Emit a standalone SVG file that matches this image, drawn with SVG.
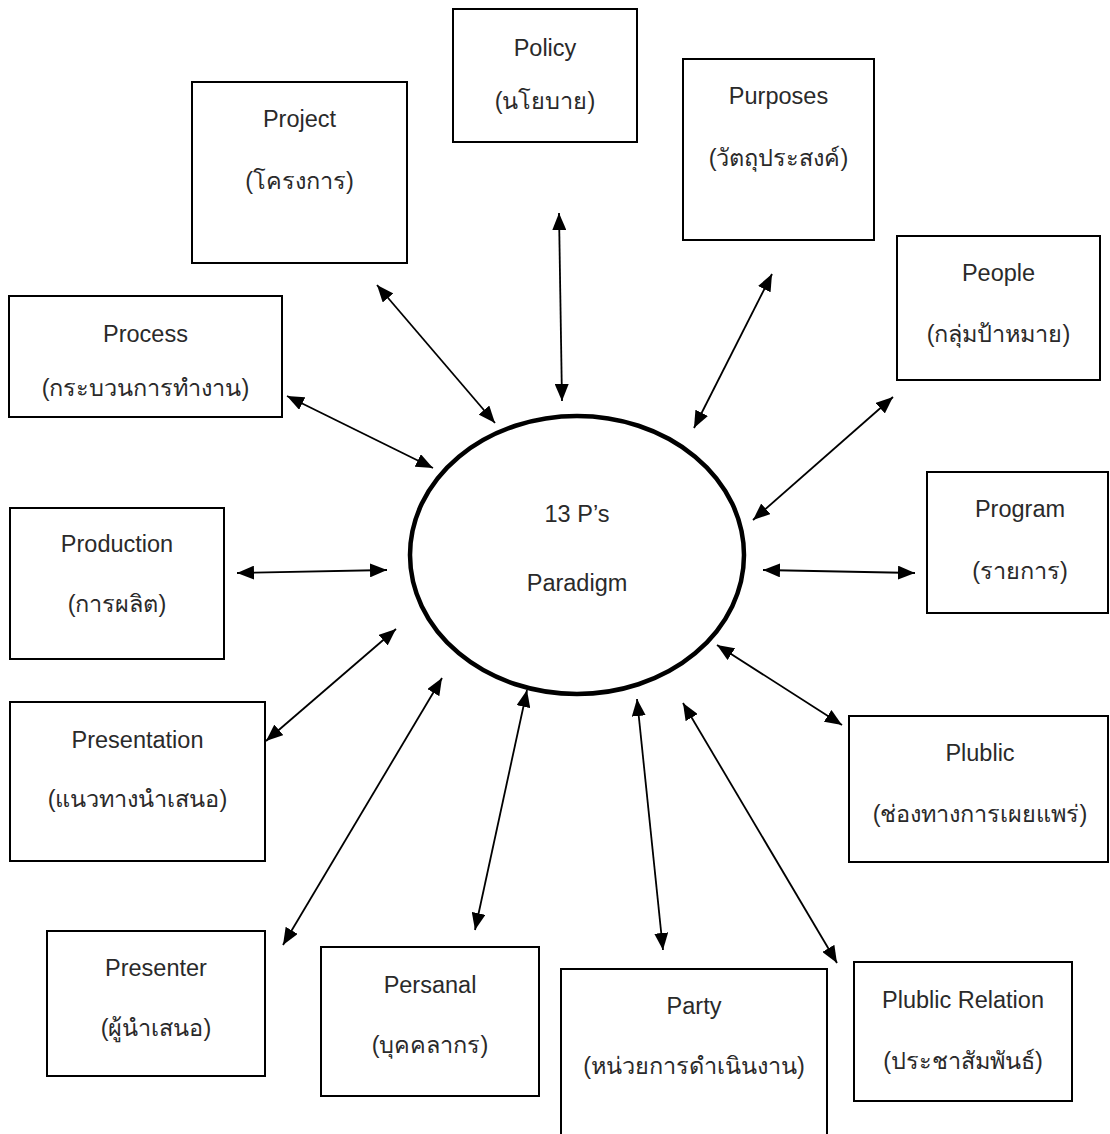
<svg xmlns="http://www.w3.org/2000/svg" width="1110" height="1134" viewBox="0 0 1110 1134">
<defs>
<marker id="ah" markerUnits="userSpaceOnUse" markerWidth="17" markerHeight="14" refX="17" refY="7" orient="auto-start-reverse" viewBox="0 0 17 14">
<path d="M0,0 L17,7 L0,14 z" fill="#000"/>
</marker>
<style>
.box{fill:#fff;stroke:#000;stroke-width:2}
.t{font-family:"Liberation Sans","Noto Sans",sans-serif;font-size:23.5px;fill:#2a2a2a;text-anchor:middle}
.c{stroke:#000;stroke-width:1.8;fill:none;marker-start:url(#ah);marker-end:url(#ah)}
</style>
</defs>
<rect width="1110" height="1134" fill="#fff"/>
<g id="connectors">
<line class="c" x1="377" y1="285" x2="495" y2="423"/>
<line class="c" x1="559" y1="213" x2="562" y2="401"/>
<line class="c" x1="772" y1="274" x2="694" y2="428"/>
<line class="c" x1="893" y1="397" x2="753" y2="520"/>
<line class="c" x1="287" y1="396" x2="433" y2="468"/>
<line class="c" x1="237" y1="573" x2="387" y2="570"/>
<line class="c" x1="763" y1="570" x2="915" y2="573"/>
<line class="c" x1="717" y1="645" x2="842" y2="725"/>
<line class="c" x1="396" y1="629" x2="266" y2="741"/>
<line class="c" x1="442" y1="678" x2="283" y2="945"/>
<line class="c" x1="527" y1="690" x2="475" y2="930"/>
<line class="c" x1="637" y1="699" x2="663" y2="950"/>
<line class="c" x1="683" y1="703" x2="837" y2="963"/>
</g>
<g id="center">
<ellipse cx="577" cy="555" rx="167" ry="139" fill="#fff" stroke="#000" stroke-width="4.5"/>
<text class="t" x="577" y="522">13 P’s</text>
<text class="t" x="577" y="591">Paradigm</text>
</g>
<g id="project">
<rect class="box" x="192" y="82" width="215" height="181"/>
<text class="t" x="299.5" y="127">Project</text>
<text class="t" x="299.5" y="189">(โครงการ)</text>
</g>
<g id="policy">
<rect class="box" x="453" y="9" width="184" height="133"/>
<text class="t" x="545" y="56">Policy</text>
<text class="t" x="545" y="109">(นโยบาย)</text>
</g>
<g id="purposes">
<rect class="box" x="683" y="59" width="191" height="181"/>
<text class="t" x="778.5" y="104">Purposes</text>
<text class="t" x="778.5" y="166">(วัตถุประสงค์)</text>
</g>
<g id="people">
<rect class="box" x="897" y="236" width="203" height="144"/>
<text class="t" x="998.5" y="281">People</text>
<text class="t" x="998.5" y="342">(กลุ่มป้าหมาย)</text>
</g>
<g id="process">
<rect class="box" x="9" y="296" width="273" height="121"/>
<text class="t" x="145.5" y="342">Process</text>
<text class="t" x="145.5" y="396">(กระบวนการทำงาน)</text>
</g>
<g id="production">
<rect class="box" x="10" y="508" width="214" height="151"/>
<text class="t" x="117" y="552">Production</text>
<text class="t" x="117" y="612">(การผลิต)</text>
</g>
<g id="program">
<rect class="box" x="927" y="472" width="181" height="141"/>
<text class="t" x="1020" y="517">Program</text>
<text class="t" x="1020" y="579">(รายการ)</text>
</g>
<g id="presentation">
<rect class="box" x="10" y="702" width="255" height="159"/>
<text class="t" x="137.5" y="748">Presentation</text>
<text class="t" x="137.5" y="807">(แนวทางนำเสนอ)</text>
</g>
<g id="plublic">
<rect class="box" x="849" y="716" width="259" height="146"/>
<text class="t" x="980" y="761">Plublic</text>
<text class="t" x="980" y="822">(ช่องทางการเผยแพร่)</text>
</g>
<g id="presenter">
<rect class="box" x="47" y="931" width="218" height="145"/>
<text class="t" x="156" y="976">Presenter</text>
<text class="t" x="156" y="1036">(ผู้นำเสนอ)</text>
</g>
<g id="persanal">
<rect class="box" x="321" y="947" width="218" height="149"/>
<text class="t" x="430" y="993">Persanal</text>
<text class="t" x="430" y="1053">(บุคคลากร)</text>
</g>
<g id="party">
<rect class="box" x="561" y="969" width="266" height="180"/>
<text class="t" x="694" y="1014">Party</text>
<text class="t" x="694" y="1074">(หน่วยการดำเนินงาน)</text>
</g>
<g id="public-relation">
<rect class="box" x="854" y="962" width="218" height="139"/>
<text class="t" x="963" y="1008">Plublic Relation</text>
<text class="t" x="963" y="1069">(ประชาสัมพันธ์)</text>
</g>
</svg>
